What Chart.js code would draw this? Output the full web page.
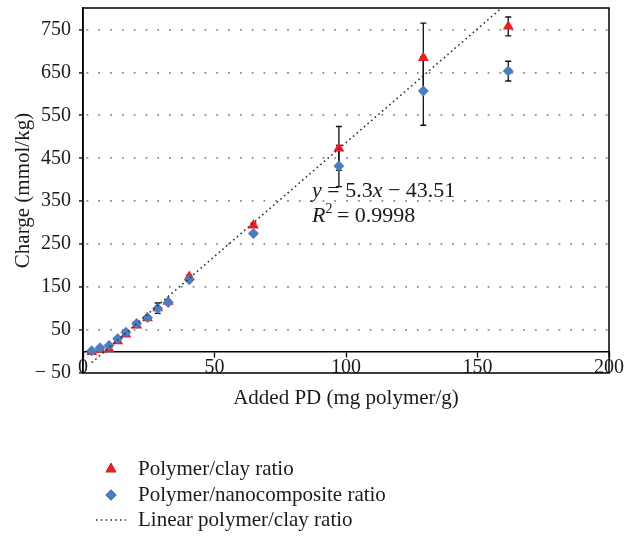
<!DOCTYPE html>
<html>
<head>
<meta charset="utf-8">
<script src="https://cdn.jsdelivr.net/npm/chart.js@4.4.1/dist/chart.umd.min.js"></script>
<style>
  html, body { margin: 0; padding: 0; background: #ffffff; }
  #wrap { width: 626px; height: 536px; }
</style>
</head>
<body>
<div id="wrap"><canvas id="c" width="626" height="536"></canvas></div>
<script>
// ---- data ----
const addedPD      = [3.3, 6.5, 9.9, 13.2, 16.3, 20.4, 24.5, 28.4, 32.4, 40.4, 64.8, 97.3, 129.4, 161.7];
const chargeClay   = [-1, 4, 6, 24, 40, 61, 78, 101, 116, 174, 294, 473, 684, 757];
const errClay      = [2, 2, 2, 3, 3, 3, 3, 12, 4, 4, 5, 51, 81, 22];
const chargeNano   = [2, 9, 14, 30, 45, 65, 79, 100, 114, 167, 275, 432, 607, 653];
const errNano      = [2, 2, 2, 3, 3, 3, 3, 4, 4, 4, 4, 48, 80, 23];
const trendX       = [3.3, 161.7];
const trendY       = [-26.0, 813.5];
const yTickValues  = [-50, 50, 150, 250, 350, 450, 550, 650, 750];
const xTickValues  = [0, 50, 100, 150, 200];
const seriesNames  = ['Polymer/clay ratio', 'Polymer/nanocomposite ratio', 'Linear polymer/clay ratio'];

const RED = '#ee1c25';
const BLUE = '#4a7ebf';
const INK = '#1a1a1a';
const FONT = "'Liberation Serif', 'Times New Roman', serif";

function toPoints(xs, ys) { return xs.map((x, i) => ({ x: x, y: ys[i] })); }

// error bars plugin (drawn behind the markers)
const errorBars = {
  id: 'errorBars',
  beforeDatasetsDraw(chart) {
    const ctx = chart.ctx;
    const xs = chart.scales.x, ys = chart.scales.y;
    ctx.save();
    ctx.strokeStyle = '#111';
    ctx.lineWidth = 1.3;
    chart.data.datasets.forEach((ds) => {
      if (!ds.errors) return;
      ds.data.forEach((p, i) => {
        const e = ds.errors[i];
        const px = xs.getPixelForValue(p.x);
        const top = ys.getPixelForValue(p.y + e);
        const bot = ys.getPixelForValue(p.y - e);
        ctx.beginPath();
        ctx.moveTo(px, top); ctx.lineTo(px, bot);
        ctx.moveTo(px - 3, top); ctx.lineTo(px + 3, top);
        ctx.moveTo(px - 3, bot); ctx.lineTo(px + 3, bot);
        ctx.stroke();
      });
    });
    ctx.restore();
  }
};

// frame around plot area
const frame = {
  id: 'frame',
  afterDraw(chart) {
    const a = chart.chartArea, ctx = chart.ctx;
    ctx.save();
    ctx.strokeStyle = '#000';
    ctx.lineWidth = 1.5;
    ctx.strokeRect(a.left, a.top, a.right - a.left, a.bottom - a.top);
    ctx.restore();
  }
};

// equation annotation
const equation = {
  id: 'equation',
  afterDraw(chart) {
    const ctx = chart.ctx;
    ctx.save();
    ctx.fillStyle = INK;
    ctx.textBaseline = 'alphabetic';
    const x0 = 312;
    let x = x0;
    ctx.font = "italic 22px " + FONT;
    ctx.fillText('y', x, 197); x += ctx.measureText('y ').width;
    ctx.font = "22px " + FONT;
    ctx.fillText('= 5.3', x, 197); x += ctx.measureText('= 5.3').width;
    ctx.font = "italic 22px " + FONT;
    ctx.fillText('x', x, 197); x += ctx.measureText('x ').width;
    ctx.font = "22px " + FONT;
    ctx.fillText('\u2212 43.51', x, 197);
    x = x0;
    ctx.font = "italic 22px " + FONT;
    ctx.fillText('R', x, 222); x += ctx.measureText('R').width;
    ctx.font = "14px " + FONT;
    ctx.fillText('2', x, 213); x += ctx.measureText('2 ').width + 1;
    ctx.font = "22px " + FONT;
    ctx.fillText('= 0.9998', x, 222);
    ctx.restore();
  }
};

// legend at bottom, drawn in a column
const columnLegend = {
  id: 'columnLegend',
  afterDraw(chart) {
    const ctx = chart.ctx;
    const rows = [469, 495, 520];
    const mx = 111, tx = 138;
    ctx.save();
    chart.data.datasets.forEach((ds, i) => {
      const y = rows[i];
      if (ds.showLine) {
        ctx.strokeStyle = ds.borderColor;
        ctx.lineWidth = ds.borderWidth;
        ctx.setLineDash(ds.borderDash);
        ctx.beginPath(); ctx.moveTo(96, y); ctx.lineTo(126, y); ctx.stroke();
        ctx.setLineDash([]);
      } else {
        Chart.helpers.drawPoint(ctx, {
          pointStyle: ds.pointStyle, radius: ds.pointRadius, rotation: 0,
          borderWidth: 0
        }, mx, y);
        ctx.fillStyle = ds.backgroundColor;
        ctx.fill();
      }
      ctx.fillStyle = INK;
      ctx.font = "21px " + FONT;
      ctx.textBaseline = 'middle';
      ctx.fillText(ds.label, tx, y);
    });
    ctx.restore();
  }
};

new Chart(document.getElementById('c'), {
  type: 'scatter',
  data: {
    datasets: [
      {
        label: seriesNames[0],
        data: toPoints(addedPD, chargeClay),
        errors: errClay,
        pointStyle: 'triangle',
        pointRadius: 6.3,
        pointHoverRadius: 6.3,
        backgroundColor: RED,
        borderColor: RED,
        borderWidth: 0,
        showLine: false,
        order: 2
      },
      {
        label: seriesNames[1],
        data: toPoints(addedPD, chargeNano),
        errors: errNano,
        pointStyle: 'rectRot',
        pointRadius: 5.5,
        pointHoverRadius: 5.5,
        backgroundColor: BLUE,
        borderColor: BLUE,
        borderWidth: 0,
        showLine: false,
        order: 1
      },
      {
        label: seriesNames[2],
        data: toPoints(trendX, trendY),
        showLine: true,
        pointRadius: 0,
        borderColor: '#333',
        borderWidth: 1.6,
        borderDash: [1.6, 3.2],
        fill: false,
        order: 0
      }
    ]
  },
  options: {
    responsive: false,
    animation: false,
    events: [],
    layout: { padding: { left: 7, top: 8, right: 17, bottom: 163 } },
    plugins: {
      legend: { display: false },
      tooltip: { enabled: false }
    },
    scales: {
      x: {
        type: 'linear',
        position: { y: 0 },
        min: 0, max: 200,
        afterBuildTicks: (s) => { s.ticks = xTickValues.map(v => ({ value: v })); },
        grid: { drawOnChartArea: false, drawTicks: true, tickLength: 5, tickColor: '#000', tickWidth: 1.3 },
        border: { display: true, color: '#000', width: 1.5 },
        ticks: { font: { family: FONT, size: 20, lineHeight: 1 }, color: INK, padding: 1, maxRotation: 0 },
        title: { display: true, text: 'Added PD (mg polymer/g)', font: { family: FONT, size: 21, lineHeight: 1.2 }, color: INK, padding: { top: 7, bottom: 0 } }
      },
      y: {
        type: 'linear',
        position: 'left',
        min: -50, max: 800,
        afterBuildTicks: (s) => { s.ticks = yTickValues.map(v => ({ value: v })); },
        afterFit: (s) => { s.width = 76; s.paddingTop = 0; s.paddingBottom = 0; },
        grid: {
          drawOnChartArea: true,
          color: (c) => (c.tick && c.tick.value === -50) ? 'rgba(0,0,0,0)' : '#8c8c8c',
          lineWidth: 1.8,
          drawTicks: true, tickLength: 4, tickColor: '#000', tickWidth: 1.3, tickBorderDash: []
        },
        border: { display: true, color: '#000', width: 1.5, dash: [1.8, 10], dashOffset: -3 },
        ticks: {
          font: { family: FONT, size: 20, lineHeight: 1 }, color: INK, padding: 8,
          callback: (v) => v < 0 ? '\u2212 ' + Math.abs(v) : String(v)
        },
        title: { display: true, text: 'Charge (mmol/kg)', font: { family: FONT, size: 21, lineHeight: 1.2 }, color: INK, padding: { top: 4, bottom: 0 } }
      }
    }
  },
  plugins: [errorBars, frame, equation, columnLegend]
});
</script>
</body>
</html>
